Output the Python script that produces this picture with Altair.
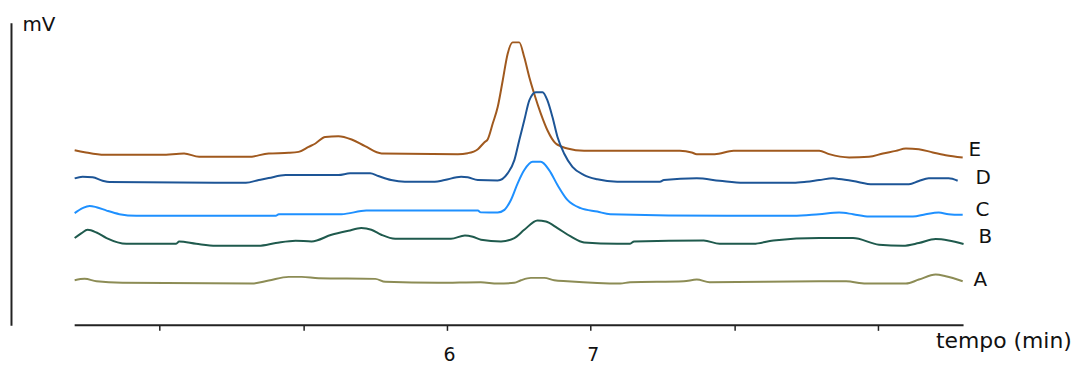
import altair as alt
import pandas as pd

# retention time (min) and detector signal (arbitrary mV units)
E_t = [3.410, 3.479, 3.618, 4.013, 4.171, 4.276, 4.622, 4.760, 4.899, 4.968, 5.037, 5.085, 5.153, 5.245,
       5.337, 5.430, 5.545, 6.076, 6.145, 6.215, 6.261, 6.284, 6.319, 6.353, 6.388, 6.422, 6.457, 6.503,
       6.538, 6.573, 6.607, 6.653, 6.699, 6.757, 6.838, 6.954, 7.620, 7.703, 7.738, 7.863, 7.994, 8.590,
       8.659, 8.798, 8.936, 9.033, 9.123, 9.193, 9.283, 9.380, 9.470, 9.588]
E_v = [176, 174, 171.3, 171.3, 172.7, 169.3, 169.3, 172.7, 173.3, 174.3, 179.3, 182.7, 189.3, 190,
       186.7, 180, 172.7, 172, 173, 177, 184, 187, 203, 219.3, 246, 272.7, 284.3, 284.3,
       269.3, 249.3, 232.7, 212.7, 196, 182.7, 177.7, 175.3, 175.3, 173.7, 172, 172, 175.3, 175.3,
       172, 168.7, 169.3, 172.7, 175.3, 177.7, 177, 173.7, 171, 168.7]

D_t = [3.410, 3.465, 3.535, 3.604, 3.652, 4.601, 4.691, 4.760, 4.878, 5.245, 5.326, 5.465, 5.522, 5.612,
       5.707, 5.915, 5.984, 6.099, 6.145, 6.215, 6.353, 6.422, 6.469, 6.503, 6.538, 6.573, 6.618, 6.665,
       6.699, 6.734, 6.769, 6.815, 6.873, 6.954, 7.046, 7.184, 7.482, 7.509, 7.738, 7.897, 8.064, 8.410,
       8.500, 8.590, 8.687, 8.728, 8.825, 8.964, 9.214, 9.283, 9.352, 9.490, 9.553]
D_v = [147.7, 149.3, 148.7, 145.3, 144, 143.3, 146, 148, 151, 151, 152.7, 152.7, 150, 146,
       144.3, 144.3, 146, 149.3, 148.7, 146, 145.5, 152.7, 166, 186, 206, 226, 234.3, 234.3,
       226, 209.3, 189.3, 172.7, 159.3, 151, 146.7, 144.3, 144.3, 146, 147.7, 145.3, 143.3, 143.3,
       144.3, 146, 147.7, 147, 145, 141.7, 141.7, 145, 147.7, 147.7, 145.3]

C_t = [3.410, 3.465, 3.514, 3.562, 3.632, 3.721, 3.839, 4.809, 4.830, 5.266, 5.439, 6.215, 6.235, 6.353,
       6.400, 6.445, 6.492, 6.538, 6.596, 6.653, 6.711, 6.769, 6.838, 6.930, 7.046, 7.136, 7.946, 8.410,
       8.590, 8.728, 8.825, 8.936, 9.241, 9.331, 9.421, 9.490, 9.588]
C_v = [112.7, 117.7, 120, 118.7, 115.3, 111.7, 110, 110, 111.7, 111.7, 115.3, 115.3, 113.5, 113.3,
       116, 126, 142.7, 156, 164.3, 164.3, 156, 141, 126, 117.7, 114.3, 111.7, 110, 110,
       111.7, 113.3, 111.7, 109.3, 109.3, 111.7, 113.3, 111.7, 111]

B_t = [3.410, 3.458, 3.500, 3.562, 3.632, 3.770, 4.116, 4.137, 4.255, 4.393, 4.691, 4.809, 4.947, 5.058,
       5.197, 5.314, 5.404, 5.474, 5.543, 5.640, 6.028, 6.125, 6.180, 6.237, 6.376, 6.469, 6.538, 6.630,
       6.688, 6.769, 6.861, 6.954, 7.184, 7.274, 7.302, 7.786, 7.897, 8.133, 8.271, 8.590, 8.825, 9.006,
       9.172, 9.283, 9.400, 9.490, 9.594]
B_v = [87.7, 92.7, 96, 93.3, 87.7, 82, 82, 84.3, 82, 80, 80, 82.7, 85, 84.3,
       91, 95, 97.7, 96, 91, 87, 87, 90.3, 89, 86, 84.3, 87.7, 96, 105.3,
       104.3, 97.7, 89.3, 83.3, 82, 82, 84.3, 85.3, 82, 82, 85.3, 87.7, 87.7, 81,
       80, 82.7, 86.7, 85.3, 81.7]

A_t = [3.410, 3.479, 3.562, 3.742, 4.643, 4.760, 4.899, 4.989, 5.107, 5.501, 5.571, 5.938, 6.235, 6.353,
       6.469, 6.515, 6.584, 6.677, 6.746, 6.838, 7.205, 7.274, 7.648, 7.738, 7.828, 8.590, 8.777, 8.915,
       9.193, 9.283, 9.400, 9.470, 9.588]
A_v = [45.3, 46.7, 44.3, 42.7, 42, 45, 48.7, 48.7, 47.3, 46.7, 43.7, 42.7, 43.3, 42,
       42.7, 45.3, 47.7, 47.7, 45.3, 44.3, 42, 43.3, 44.3, 46, 43.3, 44.3, 44.3, 42,
       42, 46, 51, 49.3, 44.3]

series_names = ["E", "D", "C", "B", "A"]
series_colors = ["#a0591e", "#1d5596", "#1e90ff", "#1f5a4d", "#8c8c55"]

# series labels at the right end of each trace
label_t = [9.629, 9.677, 9.677, 9.698, 9.663]
label_v = [176.5, 148.5, 115.5, 88.5, 45.5]

x_ticks = [4, 5, 6, 7, 8, 9]
x_domain = [2.967, 9.594]
axis_span = [3.410, 9.594]
y_domain = [0, 304]

rows = []
for name, ts, vs in zip(series_names, [E_t, D_t, C_t, B_t, A_t], [E_v, D_v, C_v, B_v, A_v]):
    for i, (t, v) in enumerate(zip(ts, vs)):
        rows.append({"serie": name, "t": t, "mv": v, "order": i})
df = pd.DataFrame(rows)

labels_df = pd.DataFrame({"serie": series_names, "t": label_t, "mv": label_v})
axis_df = pd.DataFrame({"t": [axis_span[0]], "t2": [axis_span[1]]})

FONT = "DejaVu Sans"

x_scale = alt.Scale(domain=x_domain, nice=False, zero=False)
y_scale = alt.Scale(domain=y_domain, nice=False, zero=True)

lines = alt.Chart(df).mark_line(strokeWidth=2, interpolate="monotone").encode(
    x=alt.X("t:Q", scale=x_scale,
            axis=alt.Axis(values=x_ticks, format="d", domain=False, grid=False, ticks=True,
                          tickSize=5, tickWidth=1.5, tickColor="#222",
                          labelExpr="datum.value == 6 || datum.value == 7 ? datum.label : ''",
                          labelFont=FONT, labelFontSize=19, labelPadding=15, labelColor="#111",
                          labelOffset=2,
                          title="tempo (min)", titleFont=FONT, titleFontSize=22,
                          titleFontWeight="normal", titleColor="#111", titleX=997, titleY=22,
                          titleAlign="center", titleBaseline="alphabetic")),
    y=alt.Y("mv:Q", scale=y_scale,
            axis=alt.Axis(domain=True, domainColor="#222", domainWidth=2, ticks=False,
                          labels=False, grid=False, title="mV", titleAngle=0, titleX=11,
                          titleY=8, titleAlign="left", titleBaseline="alphabetic",
                          titleFont=FONT, titleFontSize=20, titleFontWeight="normal",
                          titleColor="#111")),
    color=alt.Color("serie:N", scale=alt.Scale(domain=series_names, range=series_colors),
                    legend=None),
    order="order:Q",
    detail="serie:N",
)

axis_line = alt.Chart(axis_df).mark_rule(color="#222", strokeWidth=2).encode(
    x=alt.X("t:Q", scale=x_scale),
    x2="t2:Q",
    y=alt.value(304),
)

labels = alt.Chart(labels_df).mark_text(font=FONT, fontSize=20, align="left",
                                        baseline="middle", color="#111").encode(
    x=alt.X("t:Q", scale=x_scale),
    y=alt.Y("mv:Q", scale=y_scale),
    text="serie:N",
)

chart = alt.layer(lines, axis_line, labels).properties(
    width=957,
    height=304,
    background="white",
    autosize=alt.AutoSizeParams(type="none"),
    padding={"left": 3, "top": 14, "right": 120, "bottom": 39},
).configure_view(stroke=None, strokeWidth=0)

chart.save("out.html", embed_options={"renderer": "svg", "actions": False})
